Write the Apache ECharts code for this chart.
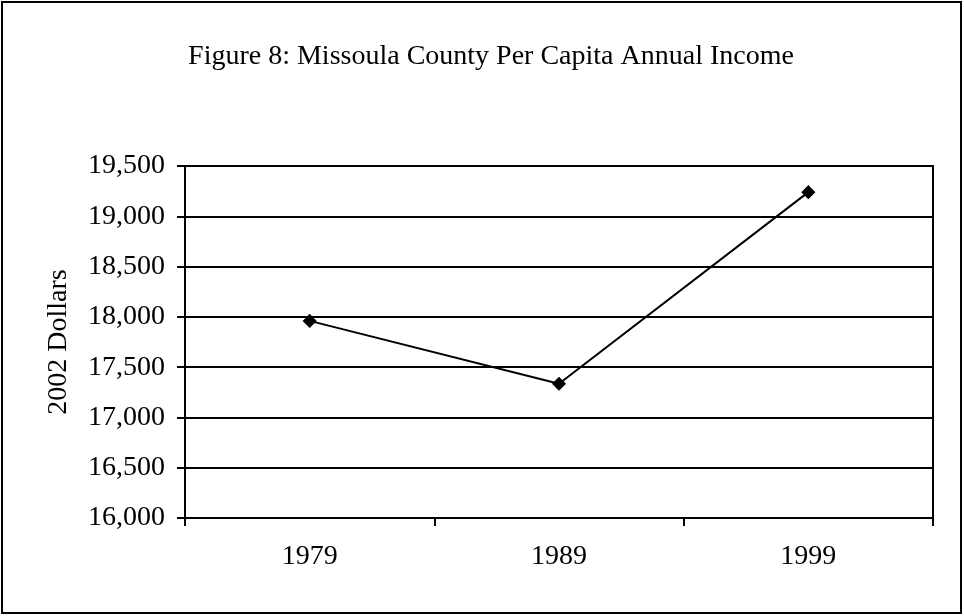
<!DOCTYPE html>
<html>
<head>
<meta charset="utf-8">
<script src="https://cdn.jsdelivr.net/npm/echarts@6/dist/echarts.min.js"></script>
<style>
  html, body { margin: 0; padding: 0; background: #fff; }
  #chart { width: 964px; height: 616px; }
</style>
</head>
<body>
<div id="chart"></div>
<script>
// Per capita annual income, Missoula County, in 2002 dollars
const years = ['1979', '1989', '1999'];
const income = [17960, 17335, 19240];
const yTicks = [16000, 16500, 17000, 17500, 18000, 18500, 19000, 19500];

const serif = '"Liberation Serif", "Times New Roman", serif';
const fontSize = 28;

const chart = echarts.init(document.getElementById('chart'), null, { renderer: 'canvas' });

chart.setOption({
  backgroundColor: '#ffffff',
  animation: false,
  title: {
    text: 'Figure 8: Missoula County Per Capita Annual Income',
    left: 486,
    top: 38,
    textAlign: 'center',
    textStyle: { fontFamily: serif, fontSize: fontSize, fontWeight: 'normal', color: '#000' }
  },
  graphic: [{
    type: 'rect',
    shape: { x: 2, y: 2, width: 959, height: 611 },
    style: { fill: 'none', stroke: '#000', lineWidth: 2 },
    silent: true
  }],
  grid: {
    left: 185, right: 31, top: 166, bottom: 98,
    show: true, borderColor: '#000', borderWidth: 2, backgroundColor: 'transparent'
  },
  xAxis: {
    type: 'category',
    data: years,
    boundaryGap: true,
    axisLine: { lineStyle: { color: '#000', width: 2 } },
    axisTick: { show: true, inside: false, length: 8, alignWithLabel: false, lineStyle: { color: '#000', width: 2 } },
    axisLabel: { margin: 25, fontFamily: serif, fontSize: fontSize, color: '#000' }
  },
  yAxis: {
    type: 'value',
    min: yTicks[0],
    max: yTicks[yTicks.length - 1],
    interval: 500,
    name: '2002 Dollars',
    nameLocation: 'middle',
    nameGap: 112,
    nameRotate: 90,
    nameTextStyle: { fontFamily: serif, fontSize: fontSize, color: '#000' },
    axisLine: { show: true, lineStyle: { color: '#000', width: 2 } },
    axisTick: { show: true, inside: false, length: 8, lineStyle: { color: '#000', width: 2 } },
    axisLabel: {
      margin: 20, fontFamily: serif, fontSize: fontSize, color: '#000',
      formatter: v => v.toLocaleString('en-US')
    },
    splitLine: { show: true, lineStyle: { color: '#000', width: 1.8 } }
  },
  series: [{
    type: 'line',
    data: income,
    lineStyle: { color: '#000', width: 2 },
    itemStyle: { color: '#000' },
    symbol: 'rect',
    symbolRotate: 45,
    symbolSize: 10,
    showSymbol: true
  }]
});
</script>
</body>
</html>
